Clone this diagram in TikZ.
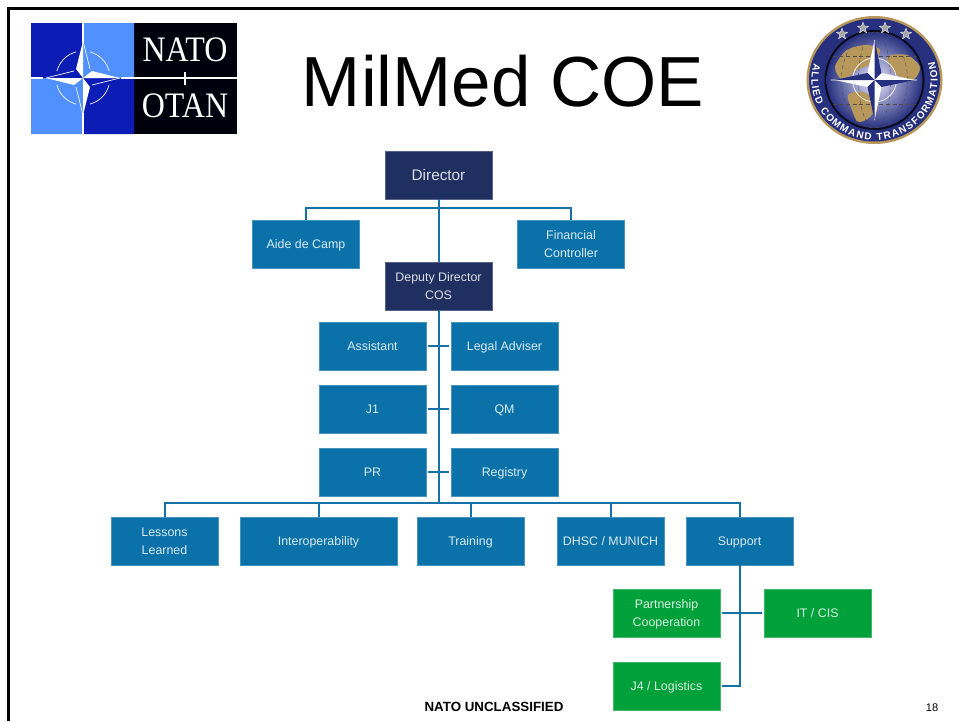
\documentclass[tikz,border=0pt]{standalone}
\usepackage{fontspec}
\setmainfont{Liberation Sans}
\newfontfamily\logofont{Liberation Serif}
\usepackage{xcolor}
\usepackage{tikz}
\usetikzlibrary{positioning,shapes.geometric,decorations.text}

\definecolor{navybox}{HTML}{1F2F60}
\definecolor{tealbox}{HTML}{0A72A8}
\definecolor{greenbox}{HTML}{00A03A}
\definecolor{linkblue}{HTML}{1572A8}
\definecolor{natodark}{HTML}{0C1DB5}
\definecolor{natolight}{HTML}{5090FF}
\definecolor{sealband}{HTML}{27307F}
\definecolor{sealgold}{HTML}{B8975A}

\tikzset{
  orgbox/.style={draw=#1!75!white, line width=0.5pt, fill=#1, text=white!85!#1, text depth=0pt, minimum width=80.25pt, minimum height=36pt, inner sep=0pt, outer sep=0pt, font=\fontsize{9.3}{13.5}\selectfont},
  link/.style={draw=linkblue, line width=1.5pt},
  gaplink/.style={link, shorten >=1.5pt, shorten <=1.5pt},
  emblem/.style={white, line width=0.5pt},
  logotext/.style={text=white, yscale=1.12, transform shape, font=\logofont\fontsize{24}{24}\selectfont}
}

\begin{document}
\begin{tikzpicture}[x=0.75pt, y=0.75pt, every node/.style={align=center}]
    \useasboundingbox (0,0) rectangle (959,-721);
    \draw[line width=2pt] (8.5,-721) -- (8.5,-8.5) -- (959,-8.5);

    % NATO logo
    \fill[black!95!blue] (134,-23) rectangle (237,-134);
    \fill[natodark] (31,-23) rectangle (83,-78) (83,-78) rectangle (134,-134);
    \fill[natolight] (83,-23) rectangle (134,-78) (31,-78) rectangle (83,-134);
    \draw[emblem, line width=1pt] (83,-23) -- (83,-43) (83,-113) -- (83,-134) (31,-78) -- (43,-78) (121,-78) -- (237,-78) (185,-72) -- (185,-85);
    \foreach \a in {15,105,195,285}
        \draw[emblem] (83,-78) ++(\a:27) arc[start angle=\a, end angle=\a+60, radius=27];
    \foreach \a in {0,90,180,270} {
        \fill[white, shift={(83,-78)}, rotate=\a] (0,0) -- (0,37) -- (-7,9) -- cycle;
        \draw[emblem, shift={(83,-78)}, rotate=\a] (0,37) -- (7,9);
    }
    \node[logotext] (nato) at (185,-50) {NATO};
    \node[logotext] (otan) at (185,-106) {OTAN};

    \node[font=\fontsize{53.2}{53}\selectfont] (title) at (503,-81) {MilMed COE};

    % ACT seal
    \fill[sealgold] (874.5,-80) ellipse[x radius=68, y radius=64];
    \fill[sealband] (874.5,-80) ellipse[x radius=65.5, y radius=61.5];
    \fill[black!80!sealband] (874.5,-80) circle[radius=50];
    \begin{scope}
        \clip (874.5,-80) circle[radius=48];
        \shade[inner color=blue!8!white, outer color=sealband] (874.5,-80) circle[radius=48];
        \fill[sealgold] plot[smooth cycle] coordinates {(835,-67) (847,-50) (867,-45) (880,-50) (873,-63) (857,-70) (843,-80)};
        \fill[sealgold] plot[smooth cycle] coordinates {(848,-95) (863,-92) (877,-103) (870,-117) (858,-122) (852,-110)};
        \fill[sealgold] plot[smooth cycle] coordinates {(887,-57) (907,-55) (920,-67) (913,-80) (897,-75)};
        \foreach \r in {16,33}
            \draw[black!70, line width=0.3pt, densely dashed] (874.5,-80) ellipse[x radius=\r, y radius=48];
        \foreach \y in {-104,-56}
            \draw[black!70, line width=0.3pt, densely dashed] (826,\y) -- (923,\y);
    \end{scope}
    \foreach \x/\y in {842/34,863/28,885/28,906/34}
        \node[star, star points=5, star point ratio=2.4, fill=black!35, draw=white, line width=0.2pt, minimum size=9pt, inner sep=0pt] at (\x,-\y) {};
    \draw[emblem] (874.5,-80) circle[radius=22] (831,-80) -- (917,-80) (874.5,-40) -- (874.5,-120);
    \foreach \a in {0,90,180,270} {
        \fill[white, shift={(874.5,-80)}, rotate=\a] (0,0) -- (0,40) -- (-7,7) -- cycle;
        \fill[sealband, shift={(874.5,-80)}, rotate=\a] (0,0) -- (0,40) -- (7,7) -- cycle;
    }
    \path[decorate, decoration={text along path, text align={fit to path}, text={|\fontsize{7.5}{8}\selectfont\bfseries\color{white}|ALLIED COMMAND TRANSFORMATION}}]
        (874.5,-80) ++(164:63 and 60) arc[start angle=164, end angle=378, x radius=63, y radius=60];

    % org chart
    \node[orgbox=navybox, font=\fontsize{11.5}{14}\selectfont] (director) at (438.5,-175) {Director};
    \node[orgbox=navybox, below=47.25pt of director] (deputy) {Deputy Director\\COS};
    \node[orgbox=tealbox, below=15.75pt of director, xshift=-99.4pt] (aide) {Aide de Camp};
    \node[orgbox=tealbox, below=15.75pt of director, xshift=99.4pt] (financial) {Financial\\Controller};

    \node[orgbox=tealbox, below=9pt of deputy, xshift=-49.5pt] (assistant) {Assistant};
    \node[orgbox=tealbox, right=18.75pt of assistant] (legal) {Legal Adviser};
    \node[orgbox=tealbox, below=11.25pt of assistant] (jone) {J1};
    \node[orgbox=tealbox, right=18.75pt of jone] (qm) {QM};
    \node[orgbox=tealbox, below=11.25pt of jone] (pr) {PR};
    \node[orgbox=tealbox, right=18.75pt of pr] (registry) {Registry};

    \node[orgbox=tealbox, below=15.75pt of pr, xshift=73.5pt] (training) {Training};
    \node[orgbox=tealbox, left=15pt of training, minimum width=117.75pt] (interop) {Interoperability};
    \node[orgbox=tealbox, left=16.5pt of interop] (lessons) {Lessons\\Learned};
    \node[orgbox=tealbox, right=24.75pt of training] (dhsc) {DHSC / MUNICH};
    \node[orgbox=tealbox, right=16.5pt of dhsc] (support) {Support};

    \node[orgbox=greenbox, below=18pt of support, xshift=-54.75pt] (partnership) {Partnership\\Cooperation};
    \node[orgbox=greenbox, right=33pt of partnership] (itcis) {IT / CIS};
    \node[orgbox=greenbox, below=18.75pt of partnership] (logistics) {J4 / Logistics};

    \coordinate[above=10.5pt of training] (rowbus);

    \draw[link] (director) -- (deputy);
    \draw[link] (aide.north) -- ++(0,9pt) -| (financial.north);
    \draw[link] (deputy) -- (deputy.south |- rowbus);
    \draw[link] (lessons.north) |- (rowbus) -| (support.north);
    \foreach \n in {interop,training,dhsc}
        \draw[link] (\n.north) -- (\n.north |- rowbus);
    \draw[gaplink] (assistant) -- (legal);
    \draw[gaplink] (jone) -- (qm);
    \draw[gaplink] (pr) -- (registry);
    \draw[gaplink] (partnership) -- (itcis);
    \draw[link, shorten >=1.5pt] (support.south) |- (logistics.east);

    \node[font=\fontsize{10}{12}\selectfont\bfseries] (marking) at (494,-707) {NATO UNCLASSIFIED};
    \node[font=\fontsize{8.3}{10}\selectfont] (pagenum) at (932,-708) {18};
\end{tikzpicture}
\end{document}
